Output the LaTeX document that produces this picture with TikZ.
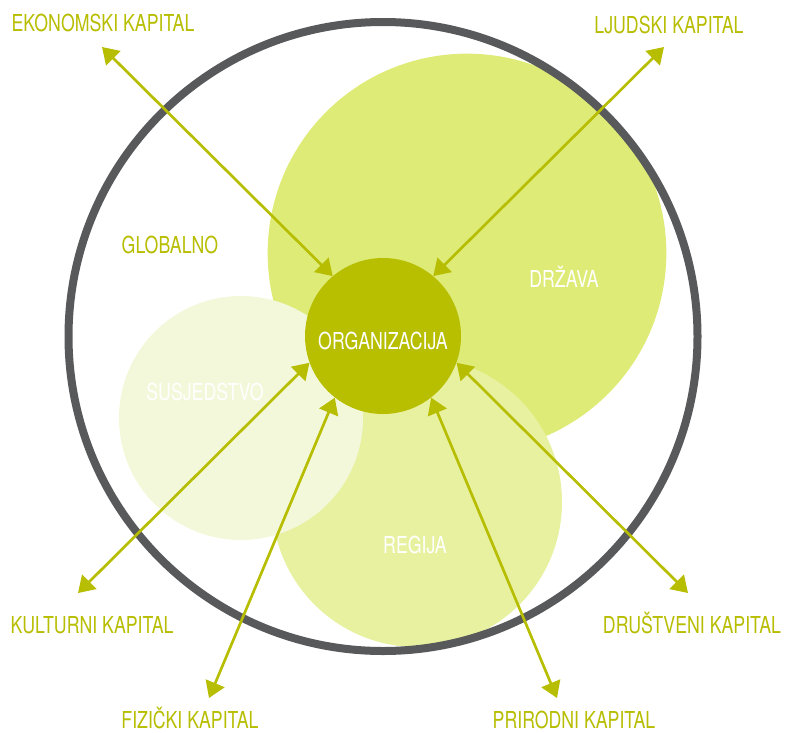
\documentclass[tikz,border=0pt]{standalone}
\usepackage{fontspec}
\setmainfont{TeX Gyre Heros}[FakeStretch=0.76]
\usetikzlibrary{arrows.meta}

\definecolor{kapital}{HTML}{B7BD00}
\definecolor{orgfill}{HTML}{B8BE00}
\definecolor{drzavafill}{HTML}{DEEB76}
\definecolor{regijafill}{HTML}{E8F1A0}
\definecolor{susfill}{HTML}{F4F8DA}
\definecolor{ring}{HTML}{58595B}

\begin{document}
\begin{tikzpicture}[x=0.75pt,y=-0.75pt,
  lbl/.style={font=\fontsize{17.5}{20}\selectfont, text=kapital, anchor=base, inner sep=0pt},
  inlbl/.style={lbl, text=white},
  zone/.style={circle, inner sep=0pt, draw=none},
  link/.style={draw=kapital, line width=2pt,
    {Triangle[length=12pt,width=15pt]}-{Triangle[length=12pt,width=15pt]}}]
\useasboundingbox (0,0) rectangle (785,732);

% nested levels around the organisation
\node[zone, fill=drzavafill, minimum size=299pt] (drzava) at (467,253) {};
\node[zone, fill=regijafill, minimum size=217.5pt] (regija) at (417,502) {};
\node[zone, fill=susfill, minimum size=183pt] (susjedstvo) at (241,418) {};
\draw[draw=ring, line width=6pt] (383,336.5) circle[radius=314.5];
\node[zone, fill=orgfill, minimum size=117pt] (org) at (383,336) {};

% level names
\node[lbl] (t-glob) at (170,253) {GLOBALNO};
\node[inlbl] (t-drz) at (564,287) {DRŽAVA};
\node[inlbl] (t-reg) at (415,553) {REGIJA};
\node[inlbl] (t-sus) at (205,400) {SUSJEDSTVO};
\node[inlbl] (t-org) at (383,349) {ORGANIZACIJA};

% forms of capital
\node[lbl] (l-ekon) at (103,31.5) {EKONOMSKI KAPITAL};
\node[lbl] (l-ljud) at (669,33) {LJUDSKI KAPITAL};
\node[lbl] (l-kult) at (92,633) {KULTURNI KAPITAL};
\node[lbl] (l-drus) at (692,633) {DRUŠTVENI KAPITAL};
\node[lbl] (l-fiz) at (190,728.5) {FIZIČKI KAPITAL};
\node[lbl] (l-prir) at (574,728.5) {PRIRODNI KAPITAL};

% arrow ends beside the labels
\coordinate (a-ekon) at (102,47);
\coordinate (a-ljud) at (664,47);
\coordinate (a-kult) at (78,593);
\coordinate (a-drus) at (688,593);
\coordinate (a-fiz) at (209,698);
\coordinate (a-prir) at (557,698);

% two-way links between the organisation and each capital
\draw[link] (a-ekon) -- (org.130);
\draw[link] (a-ljud) -- (org.50);
\draw[link] (a-kult) -- (org.200);
\draw[link] (a-drus) -- (org.340);
\draw[link] (a-fiz) -- (org.232);
\draw[link] (a-prir) -- (org.308);
\end{tikzpicture}
\end{document}
